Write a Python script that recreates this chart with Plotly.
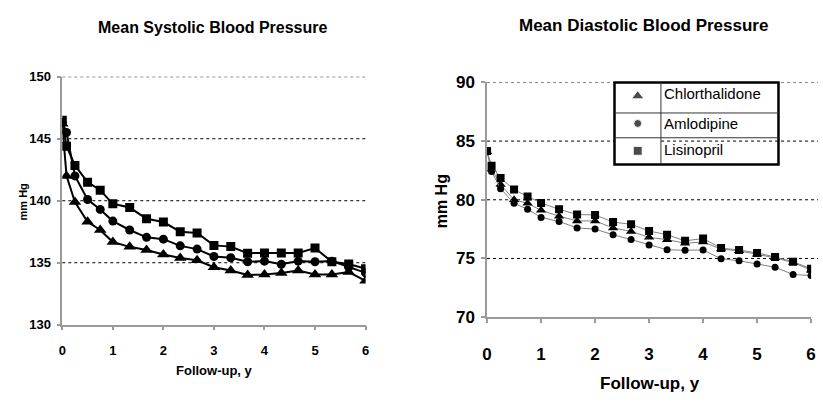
import plotly.graph_objects as go

W, H = 823, 412

# ---- data ----
years = [0, 1/12, 0.25, 0.5, 0.75, 1, 4/3, 5/3, 2, 7/3, 8/3, 3, 10/3, 11/3, 4,
         13/3, 14/3, 5, 16/3, 17/3, 6]
series_names = ["Chlorthalidone", "Amlodipine", "Lisinopril"]

sbp_chlorthalidone = [146.2, 142.0, 139.9, 138.3, 137.64, 136.67, 136.28, 136.03, 135.67, 135.38,
                      135.2, 134.64, 134.38, 134.02, 134.05, 134.18, 134.38, 134.05, 134.05, 134.25, 133.54]
sbp_amlodipine = [146.3, 145.5, 142.0, 140.1, 139.3, 138.36, 137.64, 137.05, 136.9, 136.36,
                  136.1, 135.5, 135.4, 135.08, 135.13, 134.87, 135.13, 135.08, 135.13, 134.64, 134.18]
sbp_lisinopril = [146.5, 144.4, 142.85, 141.5, 140.85, 139.75, 139.45, 138.55, 138.28, 137.5,
                  137.4, 136.4, 136.3, 135.77, 135.79, 135.79, 135.79, 136.18, 135.08, 134.9, 134.51]

dbp_chlorthalidone = [84.1, 82.6, 81.3, 80.0, 79.7, 79.1, 78.6, 78.2, 78.2, 77.6,
                      77.3, 76.8, 76.6, 76.3, 76.4, 75.8, 75.65, 75.35, 75.05, 74.65, 74.0]
dbp_amlodipine = [84.1, 82.4, 80.95, 79.7, 79.19, 78.5, 78.15, 77.6, 77.5, 77.02,
                  76.61, 76.15, 75.74, 75.7, 75.72, 74.98, 74.8, 74.53, 74.25, 73.63, 73.55]
dbp_lisinopril = [84.15, 82.9, 81.85, 80.87, 80.27, 79.73, 79.19, 78.75, 78.7, 78.1,
                  77.91, 77.34, 77.02, 76.5, 76.69, 75.88, 75.72, 75.47, 75.12, 74.72, 74.12]

x_ticks = [0, 1, 2, 3, 4, 5, 6]
sbp_ticks = [130, 135, 140, 145, 150]
dbp_ticks = [70, 75, 80, 85, 90]

symbols = ["triangle-up", "circle", "square"]

def xp(px):
    return px / W

def yp(py):
    return 1 - py / H

FONT = "Liberation Sans, Arial, sans-serif"

fig = go.Figure()

sbp = [sbp_chlorthalidone, sbp_amlodipine, sbp_lisinopril]
dbp = [dbp_chlorthalidone, dbp_amlodipine, dbp_lisinopril]
left_sizes = [11, 9, 9]
right_sizes = [9, 7, 8]

for name, vals, sym, sz in zip(series_names, sbp, symbols, left_sizes):
    fig.add_trace(go.Scatter(x=years, y=vals, mode="lines+markers", name=name,
                             line=dict(color="black", width=2),
                             marker=dict(symbol=sym, size=sz, color="black"),
                             xaxis="x", yaxis="y", showlegend=False))

for name, vals, sym, sz in zip(series_names, dbp, symbols, right_sizes):
    fig.add_trace(go.Scatter(x=years, y=vals, mode="lines+markers", name=name,
                             line=dict(color="#808080", width=1),
                             marker=dict(symbol=sym, size=sz, color="black"),
                             xaxis="x2", yaxis="y2", showlegend=False))

# legend symbols on a small invisible axis (one row per series)
fig.add_trace(go.Scatter(x=[0.5, 0.5, 0.5], y=[0.5, 1.5, 2.5], mode="markers",
                         marker=dict(symbol=symbols, size=[11, 8, 9], color="black"),
                         xaxis="x3", yaxis="y3", showlegend=False, hoverinfo="skip"))

axis_line = "#9a9a9a"

def xaxis_cfg(domain, fsize, standoff):
    return dict(domain=domain, range=[0, 6], tickvals=x_ticks, showgrid=False, zeroline=False,
                showline=True, linecolor=axis_line, linewidth=1.5, ticks="outside", ticklen=4,
                tickcolor=axis_line, tickwidth=1.5, ticklabelstandoff=standoff,
                tickfont=dict(family=FONT, size=fsize, color="black", weight="bold"),
                fixedrange=True)

def yaxis_cfg(domain, rng, ticks, fsize, anchor):
    return dict(domain=domain, range=rng, tickvals=ticks, showgrid=False,
                zeroline=False, showline=True, linecolor=axis_line,
                linewidth=1.5, ticks="outside", ticklen=4, tickcolor=axis_line, tickwidth=1.5,
                ticklabelstandoff=3, anchor=anchor, layer="below traces",
                tickfont=dict(family=FONT, size=fsize, color="black", weight="bold"),
                fixedrange=True)

fig.update_layout(
    width=W, height=H, margin=dict(l=0, r=0, t=0, b=0),
    paper_bgcolor="white", plot_bgcolor="white",
    xaxis=xaxis_cfg([xp(58), xp(365)], 13, 9) | dict(anchor="y"),
    yaxis=yaxis_cfg([yp(331), yp(71)], [130, 150], sbp_ticks, 13, "x"),
    xaxis2=xaxis_cfg([xp(488), xp(816)], 17, 17) | dict(anchor="y2"),
    yaxis2=yaxis_cfg([yp(323), yp(77)], [70, 90], dbp_ticks, 17, "x2"),
    xaxis3=dict(domain=[xp(617), xp(664)], range=[0, 1], visible=False, anchor="y3", fixedrange=True),
    yaxis3=dict(domain=[yp(163), yp(77)], range=[3, 0], visible=False, anchor="x3", fixedrange=True),
)

ann = []
def text(s, x, y, size, bold=True, xanchor="center", angle=0, family=FONT):
    ann.append(dict(text=s, x=xp(x), y=yp(y), xref="paper", yref="paper", showarrow=False,
                    xanchor=xanchor, yanchor="middle", textangle=angle,
                    font=dict(family=family, size=size, color="black",
                              weight="bold" if bold else "normal")))

text("Mean Systolic Blood Pressure", 211, 19, 16)
text("Mean Diastolic Blood Pressure", 646, 17, 17)
text("mm Hg", 18, 202, 11, angle=-90)
text("mm Hg", 442, 202, 16, angle=-90)
text("Follow-up, y", 212, 379, 13)
text("Follow-up, y", 653, 393, 17)

row_text_y = [89, 120, 147]
for name, ty in zip(series_names, row_text_y):
    text(name, 665, ty, 15, bold=False, xanchor="left")

fig.update_layout(annotations=ann)

shapes = []
# dotted gridlines (drawn as shapes so the top one shows; right panel's run to the edge)
for v in sbp_ticks[1:]:
    shapes.append(dict(type="line", xref="x domain", yref="y", x0=0, x1=1, y0=v, y1=v,
                       layer="below", line=dict(color="black", width=1, dash="dot")))
for v in dbp_ticks[1:]:
    shapes.append(dict(type="line", xref="paper", yref="y2", x0=xp(488), x1=1, y0=v, y1=v,
                       layer="below", line=dict(color="black", width=1, dash="dot")))

# legend table
shapes += [
    dict(type="rect", xref="paper", yref="paper", x0=xp(617), x1=xp(783), y0=yp(163), y1=yp(77),
         line=dict(color="black", width=2.5), fillcolor="rgba(0,0,0,0)"),
    dict(type="line", xref="paper", yref="paper", x0=xp(617), x1=xp(783), y0=yp(109), y1=yp(109),
         line=dict(color="#333", width=1)),
    dict(type="line", xref="paper", yref="paper", x0=xp(617), x1=xp(783), y0=yp(135), y1=yp(135),
         line=dict(color="#333", width=1)),
    dict(type="line", xref="paper", yref="paper", x0=xp(664), x1=xp(664), y0=yp(163), y1=yp(77),
         line=dict(color="#333", width=1)),
]
fig.update_layout(shapes=shapes)

fig.write_html("out.html", config={"displayModeBar": False})
